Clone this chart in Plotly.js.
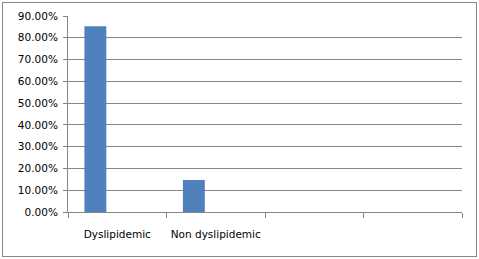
<!DOCTYPE html>
<html>
<head>
<meta charset="utf-8">
<script src="https://cdn.plot.ly/plotly-3.0.1.min.js"></script>
<style>
html,body{margin:0;padding:0;background:#fff;}
#wrap{position:relative;width:479px;height:259px;}
#chart{position:absolute;left:0;top:0;width:479px;height:259px;}
#border{position:absolute;left:2px;top:2px;width:473px;height:253px;border:1px solid #868686;pointer-events:none;}
</style>
</head>
<body>
<div id="wrap"><div id="chart"></div><div id="border"></div></div>
<script>
const categories = ["Dyslipidemic", "Non dyslipidemic", " ", "  "];
const values = [0.853, 0.147, null, null];
const yTicks = [0, 0.1, 0.2, 0.3, 0.4, 0.5, 0.6, 0.7, 0.8, 0.9];

const grey = "#868686";
const font = {family: "DejaVu Sans", size: 10.5, color: "#000"};

Plotly.newPlot("chart", [{
  type: "bar",
  x: categories,
  y: values,
  width: 0.2222,
  offset: -0.3333,
  marker: {color: "#4F81BD", line: {width: 0}},
  hoverinfo: "none"
}], {
  width: 479, height: 259,
  margin: {l: 68, r: 17, t: 16, b: 47},
  paper_bgcolor: "#fff", plot_bgcolor: "#fff",
  showlegend: false,
  font: font,
  xaxis: {
    type: "category",
    categoryarray: categories, categoryorder: "array",
    range: [-0.5, 3.5],
    tickson: "boundaries",
    tickangle: 0,
    ticks: "outside", ticklen: 5, tickcolor: grey, tickwidth: 1,
    showline: true, linecolor: grey, linewidth: 1,
    showgrid: false, zeroline: false,
    tickfont: font,
    ticklabelstandoff: 12
  },
  yaxis: {
    range: [0, 0.9],
    tickvals: yTicks,
    tickformat: ".2%",
    ticks: "outside", ticklen: 4, tickcolor: grey, tickwidth: 1,
    showline: true, linecolor: grey, linewidth: 1,
    showgrid: true, gridcolor: grey, gridwidth: 1,
    zeroline: false,
    tickfont: font,
    ticklabelstandoff: 3
  }
}, {staticPlot: true, displayModeBar: false});
</script>
</body>
</html>
